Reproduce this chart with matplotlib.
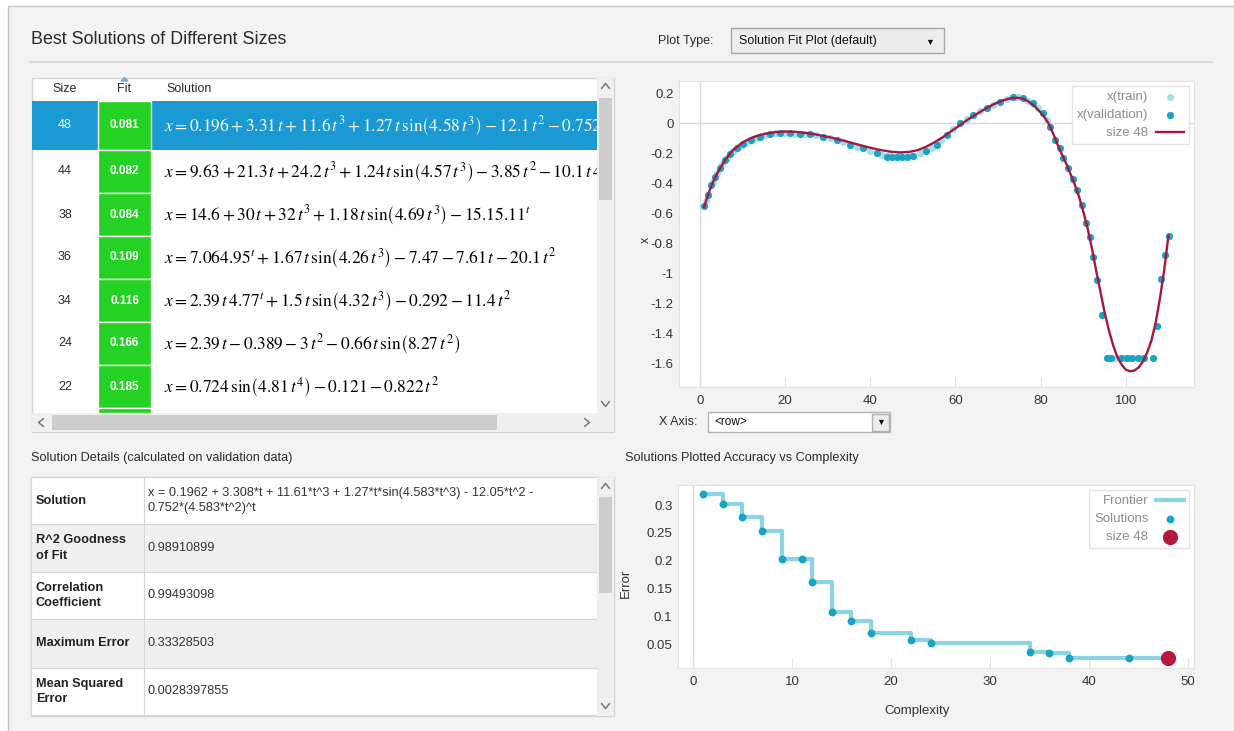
import matplotlib
matplotlib.use("Agg")
import matplotlib.pyplot as plt
from matplotlib.patches import Rectangle, Polygon
from matplotlib.transforms import Bbox, TransformedBbox
from matplotlib.ticker import FormatStrFormatter

plt.rcParams['font.family'] = ['Liberation Sans', 'DejaVu Sans']
plt.rcParams['mathtext.fontset'] = 'stix'
plt.rcParams['axes.unicode_minus'] = False

W, H = 1234, 731

# ---------------------------------------------------------------- data
sizes = [48, 44, 38, 36, 34, 24, 22]
fits = [0.081, 0.082, 0.084, 0.109, 0.116, 0.166, 0.185]
solutions = [
    r'$x = 0.196 + 3.31\,t + 11.6\,t^{3} + 1.27\,t\,\mathrm{sin}\left(4.58\,t^{3}_{\ }\right) - 12.1\,t^{2} - 0.752\,\left(4.58\,t^{2}_{\ }\right)^{t}$',
    r'$x = 9.63 + 21.3\,t + 24.2\,t^{3} + 1.24\,t\,\mathrm{sin}\left(4.57\,t^{3}_{\ }\right) - 3.85\,t^{2} - 10.1\,t\,4.57^{t}$',
    r'$x = 14.6 + 30\,t + 32\,t^{3} + 1.18\,t\,\mathrm{sin}\left(4.69\,t^{3}_{\ }\right) - 15.15.11^{t}$',
    r'$x = 7.064.95^{t} + 1.67\,t\,\mathrm{sin}\left(4.26\,t^{3}_{\ }\right) - 7.47 - 7.61\,t - 20.1\,t^{2}$',
    r'$x = 2.39\,t\,4.77^{t} + 1.5\,t\,\mathrm{sin}\left(4.32\,t^{3}_{\ }\right) - 0.292 - 11.4\,t^{2}$',
    r'$x = 2.39\,t - 0.389 - 3\,t^{2} - 0.66\,t\,\mathrm{sin}\left(8.27\,t^{2}_{\ }\right)$',
    r'$x = 0.724\,\mathrm{sin}\left(4.81\,t^{4}_{\ }\right) - 0.121 - 0.822\,t^{2}$',
]

detail_labels = ['Solution', 'R^2 Goodness\nof Fit', 'Correlation\nCoefficient',
                 'Maximum Error', 'Mean Squared\nError']
detail_values = ['x = 0.1962 + 3.308*t + 11.61*t^3 + 1.27*t*sin(4.583*t^3) - 12.05*t^2 -\n'
                 '0.752*(4.583*t^2)^t',
                 '0.98910899', '0.99493098', '0.33328503', '0.0028397855']

# fitted curve of the size 48 model
fit_row = [1, 2, 3, 4, 5, 6, 7, 8, 10, 12, 14, 16, 18, 20, 22, 24, 27, 30, 33, 36, 39, 42, 45,
           47, 49, 51, 53, 55, 57, 59, 61, 63, 65, 67, 69, 71, 73,
           74, 75, 76, 77, 78, 79, 80, 81, 82, 83, 84, 85, 86, 87, 88, 89, 90, 91, 92, 93,
           94, 95, 96, 97, 98, 99, 100, 101, 102, 103, 104, 105, 106, 107, 108, 109, 110]
fit_x = [-0.56, -0.47, -0.40, -0.34, -0.29, -0.245, -0.205, -0.175, -0.13, -0.10, -0.08, -0.068,
         -0.06, -0.057, -0.058, -0.063, -0.075, -0.092, -0.112, -0.135, -0.158, -0.178, -0.192,
         -0.196, -0.193, -0.182, -0.16, -0.13, -0.095, -0.055, -0.015, 0.025, 0.06, 0.095, 0.125,
         0.15, 0.165,
         0.168, 0.167, 0.16, 0.146, 0.126, 0.1, 0.07, 0.035, -0.01, -0.075, -0.145, -0.21,
         -0.27, -0.34, -0.41, -0.49, -0.59, -0.7, -0.83, -0.98, -1.12, -1.26, -1.38, -1.48,
         -1.56, -1.61, -1.645, -1.655, -1.65, -1.63, -1.59, -1.53, -1.45, -1.33, -1.17, -0.98,
         -0.75]

val_row = [0.9, 2.0, 2.7, 3.5, 4.7, 5.9, 7.0, 8.6, 10.2, 12.1, 14.1, 16.4, 18.8, 21.1, 23.5, 25.8,
           28.9, 32.1, 35.2, 38.3, 41.5, 43.9, 45.1, 46.3, 47.5, 48.6, 50.1, 53.2, 55.6, 57.9,
           61.0, 64.2, 67.3, 70.4, 73.5, 75.9, 78.2, 80.6, 82.2, 83.3, 84.5, 85.3, 86.5, 87.5,
           88.6, 89.6, 90.6, 91.5, 92.3, 93.3, 94.3, 95.5, 96.5, 98.8, 100.2, 101.5, 102.9, 104.3,
           106.3, 107.2, 108.2, 109.1, 110.1]
val_x = [-0.553, -0.48, -0.413, -0.358, -0.3, -0.247, -0.207, -0.169, -0.142, -0.113, -0.091,
         -0.073, -0.064, -0.069, -0.073, -0.076, -0.091, -0.113, -0.147, -0.169, -0.202, -0.229,
         -0.229, -0.229, -0.229, -0.229, -0.22, -0.185, -0.147, -0.08, -0.002, 0.053, 0.098,
         0.142, 0.171, 0.164, 0.131, 0.065, -0.024, -0.113, -0.169, -0.236, -0.302, -0.373,
         -0.447, -0.547, -0.669, -0.758, -0.891, -1.047, -1.28, -1.569, -1.569, -1.569, -1.569,
         -1.569, -1.569, -1.569, -1.569, -1.35, -1.04, -0.88, -0.75]

train_row = [1.4, 3.1, 4.1, 5.3, 6.4, 7.8, 9.4, 11.1, 13.1, 15.2, 17.6, 20.0, 22.3, 24.6, 27.3,
             30.5, 33.6, 36.8, 39.9, 42.7, 44.5, 46.9, 49.3, 51.6, 54.4, 56.7, 59.5, 62.6, 65.8,
             68.9, 72.0, 74.7, 77.0, 79.4, 81.4, 96.0, 97.6, 99.5, 100.8, 103.6]
train_x = [-0.52, -0.39, -0.33, -0.275, -0.23, -0.188, -0.155, -0.127, -0.1, -0.082, -0.068,
           -0.064, -0.07, -0.074, -0.083, -0.1, -0.128, -0.158, -0.185, -0.215, -0.21, -0.215,
           -0.212, -0.2, -0.165, -0.115, -0.04, 0.027, 0.077, 0.12, 0.158, 0.172, 0.15, 0.1,
           0.02, -1.569, -1.569, -1.569, -1.569, -1.569]

# accuracy vs complexity
complexity = [1, 3, 5, 7, 9, 11, 12, 14, 16, 18, 22, 24, 34, 36, 38, 44, 48]
error = [0.32, 0.302, 0.279, 0.254, 0.203, 0.203, 0.162, 0.108, 0.092, 0.071, 0.059, 0.053,
         0.037, 0.035, 0.026, 0.026, 0.026]
selected_size = 48

# ---------------------------------------------------------------- colours
PANEL = '#f3f3f3'
BLUE = '#1b99d2'
GREEN = '#25d124'
TEAL = '#1aa3c2'
LIGHT = '#a9dcea'
CRIMSON = '#a8173f'
FRONTIER = '#8dd3e6'
TXT = '#2b2b2b'

fig = plt.figure(figsize=(W / 100, H / 100), dpi=100)
fig.patch.set_facecolor('white')

# pixel canvas for the window chrome
ui = fig.add_axes([0, 0, 1, 1])
ui.set_xlim(0, W)
ui.set_ylim(H, 0)
ui.axis('off')


def box(x0, y0, x1, y1, fc, ec='none', lw=1.0, z=1):
    ui.add_patch(Rectangle((x0, y0), x1 - x0, y1 - y0, facecolor=fc, edgecolor=ec,
                           linewidth=lw, zorder=z))


def chevron(cx, cy, up=True, z=5):
    d = -2.5 if up else 2.5
    ui.plot([cx - 4, cx, cx + 4], [cy - d, cy + d, cy - d], color='#7a7a7a', lw=1.1,
            zorder=z, solid_capstyle='round')


def hchevron(cx, cy, left=True, z=5):
    d = -2.5 if left else 2.5
    ui.plot([cx - d, cx + d, cx - d], [cy - 4, cy, cy + 4], color='#7a7a7a', lw=1.1,
            zorder=z, solid_capstyle='round')


box(8, 6, 1245, 745, PANEL, '#c4c4c4', z=0)

ui.text(31, 40, 'Best Solutions of Different Sizes', fontsize=12.9, va='center', color=TXT)
ui.plot([30, 1212], [62, 62], color='#dcdcdc', lw=1.6, zorder=1)

ui.text(658, 41, 'Plot Type:', fontsize=9, va='center', color=TXT)
box(731, 28, 944, 53, '#ededed', '#a8a8a8')
ui.text(739, 41, 'Solution Fit Plot (default)', fontsize=9, va='center', color='#111')
ui.text(930, 42, '\u25bc', fontsize=6.5, ha='center', va='center', color='#111')

# ---------------------------------------------------------------- best solutions table
TL, TR, SR = 32, 597, 614
box(TL, 78, SR, 432, 'white', '#d4d4d4', z=1)
ui.text(65, 89, 'Size', fontsize=9, ha='center', va='center', color=TXT, zorder=3)
ui.text(124.5, 89, 'Fit', fontsize=9, ha='center', va='center', color=TXT, zorder=3)
ui.text(166, 89, 'Solution', fontsize=9, ha='left', va='center', color=TXT, zorder=3)
ui.add_patch(Polygon([(121, 81), (124.5, 77.5), (128, 81)], closed=True, color='#7ea9d4', zorder=3))

row_top = [101] + [150 + 43 * k for k in range(len(sizes))]
eq_clip = TransformedBbox(Bbox([[151, 101], [TR, 413]]), ui.transData)
for i, (s, f, eq) in enumerate(zip(sizes, fits, solutions)):
    top, bot = row_top[i], row_top[i + 1]
    cy = (top + bot) / 2
    sel = s == selected_size
    if sel:
        box(TL, top, TR, bot, BLUE, z=2)
    box(98, top, 151, bot, GREEN, 'white', lw=1.0, z=2)
    ui.text(65, cy, str(s), fontsize=9, ha='center', va='center',
            color='white' if sel else TXT, zorder=3)
    ui.text(124.5, cy, f'{f:.3f}', fontsize=8.5, ha='center', va='center', color='white',
            fontweight='bold', zorder=3)
    t = ui.text(164, cy + 1, eq, fontsize=12.5, ha='left', va='center',
                color='white' if sel else 'black', zorder=3, clip_on=True)
    t.set_clip_box(eq_clip)
box(98, row_top[-1], 151, 413, GREEN, 'white', lw=1.0, z=2)

# scrollbars
box(TR, 78, SR, 413, '#f0f0f0', z=2)
box(599, 98, 612, 200, '#cdcdcd', z=3)
chevron(605.5, 86, up=True)
chevron(605.5, 404, up=False)
box(TL, 413, SR, 432, '#f0f0f0', z=2)
box(52, 415, 497, 430, '#cdcdcd', z=3)
hchevron(41, 422.5, left=True)
hchevron(587, 422.5, left=False)

# ---------------------------------------------------------------- solution details
ui.text(31, 458, 'Solution Details (calculated on validation data)', fontsize=9.2,
        va='center', color=TXT)
d_top = [477, 524, 572, 619, 668, 715]
box(31, 477, SR, 716, 'white', '#d4d4d4', z=1)
for i, (lab, val) in enumerate(zip(detail_labels, detail_values)):
    top, bot = d_top[i], d_top[i + 1]
    cy = (top + bot) / 2
    box(31, top, TR, bot, 'white' if i % 2 == 0 else '#f0f0f0', '#d6d6d6', lw=0.8, z=2)
    ui.text(36, cy, lab, fontsize=9.2, fontweight='bold', va='center', ha='left', color='#222',
            linespacing=1.35, zorder=3)
    ui.text(148, cy, val, fontsize=9.2, va='center', ha='left', color='#333',
            linespacing=1.35, zorder=3)
ui.plot([144, 144], [477, 715], color='#d6d6d6', lw=0.8, zorder=3)
box(TR, 477, SR, 716, '#f0f0f0', z=2)
box(599, 497, 612, 593, '#cdcdcd', z=3)
chevron(605.5, 486, up=True)
chevron(605.5, 706, up=False)

# ---------------------------------------------------------------- solution fit plot
def style(ax):
    ax.set_facecolor('white')
    for sp in ax.spines.values():
        sp.set_color('#e2e2e2')
    ax.tick_params(axis='y', length=0, labelsize=9.5, labelcolor='#333', pad=4)
    ax.tick_params(axis='x', direction='in', length=7, color='#e4e4e4', labelsize=9.5,
                   labelcolor='#333', pad=6)
    ax.yaxis.set_major_formatter(FormatStrFormatter('%g'))
    ax.xaxis.set_major_formatter(FormatStrFormatter('%g'))


def legend(ax):
    leg = ax.legend(loc='upper right', markerfirst=False, fancybox=False, fontsize=9.5,
                    labelcolor='#8c8c8c', borderaxespad=0.4, handlelength=2.1,
                    handletextpad=0.6, labelspacing=0.45, borderpad=0.35, scatterpoints=1,
                    edgecolor='#e4e4e4', framealpha=1)
    leg.get_frame().set_linewidth(1.0)


ax1 = fig.add_axes([679 / W, 1 - 387 / H, (1194 - 679) / W, (387 - 81) / H])
style(ax1)
ax1.axhline(0, color='#d8d8d8', lw=1, zorder=1)
ax1.axvline(0, color='#d8d8d8', lw=1, zorder=1)
ax1.scatter(train_row, train_x, s=27, color=LIGHT, lw=0, zorder=2, label='x(train)')
ax1.scatter(val_row, val_x, s=27, color=TEAL, lw=0, zorder=3, label='x(validation)')
ax1.plot(fit_row, fit_x, color=CRIMSON, lw=1.7, zorder=4, label='size 48')
ax1.set_xlim(-4.9, 116)
ax1.set_ylim(-1.76, 0.28)
ax1.set_xticks([0, 20, 40, 60, 80, 100])
ax1.set_yticks([0.2, 0, -0.2, -0.4, -0.6, -0.8, -1, -1.2, -1.4, -1.6])
ax1.set_ylabel('x', fontsize=9, color='#333')
ax1.yaxis.set_label_coords(-0.052, 0.48)
legend(ax1)

ui.text(659, 422, 'X Axis:', fontsize=9, va='center', color=TXT)
box(708, 412, 890, 432, 'white', '#b4b4b4')
ui.text(714, 422, '<row>', fontsize=8.5, va='center', color='#111')
box(872, 413.5, 889, 431, '#ececec', '#b0b0b0')
ui.text(880.5, 422, '\u25bc', fontsize=6.5, ha='center', va='center', color='#111')

# ---------------------------------------------------------------- accuracy vs complexity
ui.text(625, 458, 'Solutions Plotted Accuracy vs Complexity', fontsize=9.2, va='center',
        color=TXT)
ax2 = fig.add_axes([678 / W, 1 - 668 / H, (1194 - 678) / W, (668 - 485) / H])
style(ax2)
ax2.axvline(0, color='#d8d8d8', lw=1, zorder=1)
ax2.step(complexity, error, where='post', color=FRONTIER, lw=3, zorder=2, label='Frontier')
ax2.scatter(complexity, error, s=32, color=TEAL, lw=0, zorder=3, label='Solutions')
hi = complexity.index(selected_size)
ax2.scatter([complexity[hi]], [error[hi]], s=120, color='#b8183c', lw=0, zorder=4,
            label='size 48')
ax2.set_xlim(-1.5, 50.6)
ax2.set_ylim(0.008, 0.336)
ax2.set_xticks([0, 10, 20, 30, 40, 50])
ax2.set_yticks([0.05, 0.1, 0.15, 0.2, 0.25, 0.3])
ax2.set_ylabel('Error', fontsize=9.5, color='#333')
ax2.yaxis.set_label_coords(-0.089, 0.46)
ax2.set_xlabel('Complexity', fontsize=9.5, color='#333')
ax2.xaxis.set_label_coords(0.463, -0.2)
legend(ax2)

fig.savefig('out.png', dpi=100, facecolor=fig.get_facecolor())
